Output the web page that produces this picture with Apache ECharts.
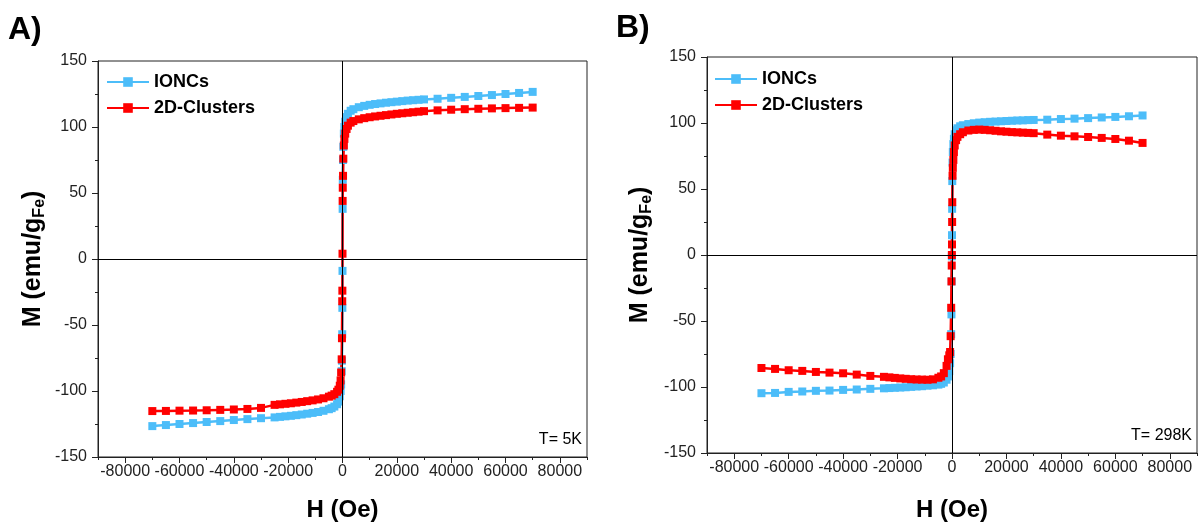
<!DOCTYPE html>
<html>
<head>
<meta charset="utf-8">
<script src="https://cdn.jsdelivr.net/npm/echarts@6/dist/echarts.min.js"></script>
<style>
html,body{margin:0;padding:0;background:#fff;}
#c{width:1199px;height:523px;}
</style>
</head>
<body>
<div id="c"></div>
<script>
// Shared magnetic field grid (Oe)
const H = [-70000,-65000,-60000,-55000,-50000,-45000,-40000,-35000,-30000,
  -25000,-23000,-21000,-19000,-17000,-15000,-13000,-11000,-9000,-7000,-5000,
  -4000,-3000,-2000,-1500,-1000,-700,-500,-300,-200,-100,-50,
  0,50,100,200,300,500,700,1000,1500,2000,3000,4000,
  6000,8000,10000,12000,14000,16000,18000,20000,22000,24000,26000,28000,30000,
  35000,40000,45000,50000,55000,60000,65000,70000];

// Panel A (T = 5K)
const ioncs5K = [-126.6,-125.8,-125.0,-124.3,-123.5,-122.8,-122.0,-121.3,-120.6,
  -120.0,-119.6,-119.2,-118.8,-118.3,-117.8,-117.2,-116.6,-115.9,-115.0,-113.8,
  -113.0,-111.8,-110.0,-108.0,-104.0,-100.0,-95.0,-85.0,-77.0,-57.0,-37.0,
  -9.0,38.0,60.0,75.0,85.0,95.0,100.0,104.0,107.5,110.0,112.3,113.5,
  115.0,116.0,116.8,117.4,117.9,118.4,118.8,119.2,119.6,120.0,120.3,120.6,120.9,
  121.4,122.1,122.8,123.5,124.2,125.0,125.8,126.6];
const clusters5K = [-115.2,-115.1,-114.9,-114.8,-114.6,-114.3,-114.0,-113.6,-112.8,
  -110.5,-110.1,-109.7,-109.3,-108.8,-108.3,-107.7,-107.1,-106.4,-105.5,-104.3,
  -103.5,-102.4,-100.6,-99.0,-96.0,-92.0,-86.0,-76.0,-60.0,-32.0,-24.0,
  4.0,44.0,54.0,63.0,76.0,86.0,91.0,95.0,98.5,101.0,103.3,104.5,
  105.8,106.7,107.4,108.0,108.5,109.0,109.5,110.0,110.4,110.8,111.2,111.6,112.0,
  112.6,113.1,113.5,113.8,114.1,114.3,114.5,114.7];

// Panel B (T = 298K)
const ioncs298K = [-104.7,-104.5,-103.7,-103.4,-102.9,-102.7,-102.2,-101.9,-101.4,
  -101.0,-100.8,-100.6,-100.4,-100.2,-99.9,-99.6,-99.4,-99.0,-98.7,-98.2,
  -97.6,-96.6,-94.5,-92.0,-88.0,-82.0,-75.0,-60.0,-45.0,-20.0,-1.0,
  15.0,35.0,56.0,70.0,78.0,84.0,88.0,91.5,94.5,96.0,97.5,98.3,
  99.2,99.8,100.3,100.6,100.9,101.1,101.3,101.5,101.7,101.9,102.0,102.2,102.3,
  102.5,103.0,103.3,103.7,104.2,104.6,105.1,105.7];
const clusters298K = [-85.6,-86.3,-87.3,-87.8,-88.6,-89.1,-89.6,-90.6,-91.6,
  -92.3,-92.7,-93.1,-93.5,-93.8,-94.1,-94.3,-94.4,-94.5,-94.2,-93.0,
  -92.0,-89.5,-84.0,-79.0,-76.0,-73.5,-61.5,-40.0,-20.0,-8.0,0.0,
  8.0,25.0,40.0,60.0,66.0,72.0,78.0,83.0,87.0,89.5,91.5,93.0,
  94.3,94.8,95.0,94.8,94.5,94.1,93.7,93.4,93.1,92.9,92.7,92.5,92.3,
  91.2,90.4,89.9,89.4,88.7,87.9,86.6,84.9];

const xMajorTicks = [-80000,-60000,-40000,-20000,0,20000,40000,60000,80000];
const seriesNames = ['IONCs','2D-Clusters'];
const blue = '#4CBDF9', red = '#FF0000';
const FONT = "'Liberation Sans', Arial, sans-serif";

function pairs(ys){ return H.map((h,i)=>[h, ys[i]]); }

function mainX(gi, gap){
  return {
    type:'value', gridIndex:gi, min:-90000, max:90000, interval:10000,
    name:'H (Oe)', nameLocation:'middle', nameGap:gap,
    nameTextStyle:{fontFamily:FONT, fontWeight:'bold', fontSize:24, color:'#000'},
    axisLine:{show:true, onZero:false, lineStyle:{color:'#222', width:1}},
    axisTick:{show:true, inside:false, length:6, lineStyle:{color:'#222'}, customValues:xMajorTicks},
    axisLabel:{show:true, customValues:xMajorTicks, formatter:(v)=>String(v),
      fontFamily:FONT, fontSize:16, color:'#222', margin:7},
    splitLine:{show:false}
  };
}
function minorX(gi){
  return {
    type:'value', gridIndex:gi, min:-90000, max:90000, interval:10000, position:'bottom',
    axisLine:{show:false, onZero:false}, axisLabel:{show:false},
    axisTick:{show:true, inside:false, length:3, lineStyle:{color:'#222'}},
    splitLine:{show:false}
  };
}
function mainY(gi, gap){
  return {
    type:'value', gridIndex:gi, min:-150, max:150, interval:50,
    name:'M (emu/g{sub|Fe})', nameLocation:'middle', nameGap:gap, nameRotate:90,
    nameTextStyle:{fontFamily:FONT, fontWeight:'bold', fontSize:25, color:'#000',
      rich:{sub:{fontFamily:FONT, fontWeight:'bold', fontSize:16, color:'#000', verticalAlign:'bottom', padding:[13,0,0,0]}}},
    axisLine:{show:true, onZero:false, lineStyle:{color:'#222', width:1}},
    axisTick:{show:true, inside:false, length:6, lineStyle:{color:'#222'}},
    minorTick:{show:true, splitNumber:2, length:3, lineStyle:{color:'#222'}},
    axisLabel:{fontFamily:FONT, fontSize:16, color:'#222', margin:11},
    splitLine:{show:false}, minorSplitLine:{show:false}
  };
}
function lineSeries(name, color, ys, xi, yi, withZeroLines){
  const s = {
    name, type:'line', xAxisIndex:xi, yAxisIndex:yi, data:pairs(ys),
    symbol:'rect', symbolSize:8, showSymbol:true,
    itemStyle:{color}, lineStyle:{color, width:2.5},
    animation:false, z:3
  };
  if (withZeroLines){
    s.markLine = {silent:true, symbol:'none', label:{show:false}, animation:false,
      lineStyle:{color:'#000', width:1, type:'solid'},
      emphasis:{disabled:true},
      data:[{xAxis:0},{yAxis:0}]};
  }
  return s;
}
function legendAt(left, top){
  return {
    data:seriesNames, orient:'vertical', left, top, padding:0,
    itemWidth:42, itemHeight:12, itemGap:8,
    textStyle:{fontFamily:FONT, fontWeight:'bold', fontSize:18, color:'#000'}
  };
}

const chart = echarts.init(document.getElementById('c'), null, {renderer:'canvas'});
chart.setOption({
  backgroundColor:'#fff',
  animation:false,
  grid:[
    {left:98, top:61, width:489, height:396, show:true, borderColor:'#222', borderWidth:1,
     backgroundColor:'transparent', containLabel:false, outerBoundsMode:'none'},
    {left:707, top:57, width:490, height:396, show:true, borderColor:'#222', borderWidth:1,
     backgroundColor:'transparent', containLabel:false, outerBoundsMode:'none'}
  ],
  xAxis:[mainX(0,41), minorX(0), mainX(1,45), minorX(1)],
  yAxis:[mainY(0,50), mainY(1,52)],
  legend:[legendAt(106,73), legendAt(714,70)],
  series:[
    lineSeries('IONCs', blue, ioncs5K, 0, 0, true),
    lineSeries('2D-Clusters', red, clusters5K, 0, 0, false),
    lineSeries('IONCs', blue, ioncs298K, 2, 1, true),
    lineSeries('2D-Clusters', red, clusters298K, 2, 1, false)
  ],
  graphic:[
    {type:'text', left:8, top:14, style:{text:'A)', font:"bold 32px 'Liberation Sans', Arial", fill:'#000'}},
    {type:'text', left:616, top:12, style:{text:'B)', font:"bold 32px 'Liberation Sans', Arial", fill:'#000'}},
    {type:'text', right:1199-582, top:432, style:{text:'T= 5K', font:"16px 'Liberation Sans', Arial", fill:'#000'}},
    {type:'text', right:1199-1192, top:428, style:{text:'T= 298K', font:"16px 'Liberation Sans', Arial", fill:'#000'}}
  ]
});
</script>
</body>
</html>
